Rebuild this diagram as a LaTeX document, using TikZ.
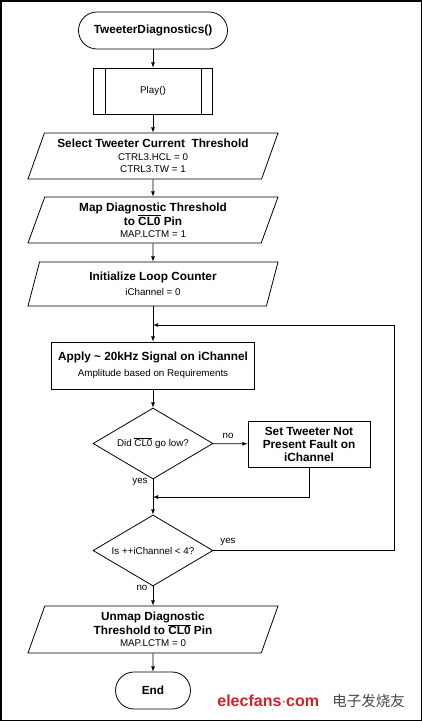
\documentclass[tikz,border=0pt]{standalone}
\usepackage{fontspec}
\setmainfont{Liberation Sans}
\newfontfamily\cnfont{Noto Sans CJK SC}
\usetikzlibrary{shapes.geometric}
\newcommand{\headfont}{\fontsize{11.8}{15}\selectfont\bfseries}
\newcommand{\notefont}{\fontsize{9.8}{13}\selectfont}
\newcommand{\clzero}{\ensuremath{\overline{\mbox{CL0}}}}
\definecolor{wmred}{RGB}{214,32,40}
\definecolor{wmgray}{RGB}{70,70,70}
\begin{document}
\begin{tikzpicture}[x=1pt, y=-1pt, line width=0.8pt,
  terminal/.style={draw, rectangle, rounded corners=18.5pt, minimum height=37pt, inner sep=0pt},
  process/.style={draw, rectangle, align=center, inner sep=0pt},
  iobox/.style={draw, trapezium, trapezium left angle=64, trapezium right angle=116,
    trapezium stretches body, minimum width=250pt, minimum height=46pt, inner sep=0pt, align=center},
  decision/.style={draw, diamond, aspect=1.69, minimum width=120pt, minimum height=71pt, inner sep=0pt},
  lbl/.style={font=\notefont, inner sep=1pt}]

\useasboundingbox (0,0) rectangle (422,721);
\draw[line width=1.5pt] (0.75,0.75) rectangle (421.25,720.25);

\node[terminal, minimum width=149pt] (start) at (153,30.5) {\headfont TweeterDiagnostics()};

\node[process, minimum width=119pt, minimum height=46pt] (play) at (153,91) {\notefont Play()};
\draw ([xshift=12pt]play.north west) -- ([xshift=12pt]play.south west);
\draw ([xshift=-12pt]play.north east) -- ([xshift=-12pt]play.south east);

\node[iobox] (selthr) at (153,156) {\headfont Select Tweeter Current~~Threshold\\[1pt]
  \notefont CTRL3.HCL = 0\\\notefont CTRL3.TW = 1};

\node[iobox] (mapthr) at (153,220) {\headfont Map Diagnostic Threshold\\\headfont to \clzero{} Pin\\
  \notefont MAP.LCTM = 1};

\node[iobox, minimum height=44pt] (initcnt) at (153,284) {\headfont Initialize Loop Counter\\[3pt]
  \notefont iChannel = 0};

\coordinate (looptop) at (153,325);
\coordinate (loopr) at (394,325);

\node[process, minimum width=203pt, minimum height=47pt] (apply) at (153,365.5)
  {\headfont Apply \textasciitilde{} 20kHz Signal on iChannel\\[4pt]\notefont Amplitude based on Requirements};

\node[decision] (didcl) at (153,443.5) {\notefont Did \clzero{} go low?};

\node[process, minimum width=122pt, minimum height=46pt, font=\fontsize{11.8}{13}\selectfont\bfseries] (setfault) at (309,444)
  {Set Tweeter Not\\Present Fault on\\iChannel};

\coordinate (joinbot) at (153,497);

\node[decision] (isch) at (153,550.5) {\notefont Is ++iChannel < 4?};

\node[iobox, minimum height=47pt] (unmap) at (153,629.5) {\headfont Unmap Diagnostic\\
  \headfont Threshold to \clzero{} Pin\\\notefont MAP.LCTM = 0};

\node[terminal, minimum width=75pt] (endn) at (153,690.5) {\headfont End};

\draw[-latex] (start) -- (play);
\draw[-latex] (play) -- (selthr);
\draw[-latex] (selthr) -- (mapthr);
\draw[-latex] (mapthr) -- (initcnt);
\draw (initcnt) -- (looptop);
\draw[-latex] (looptop) -- (apply);
\draw[-latex] (apply) -- (didcl);
\draw[-latex] (didcl) -- (setfault);
\draw (didcl) -- (joinbot);
\draw[-latex] (setfault) |- (joinbot);
\draw[-latex] (joinbot) -- (isch);
\draw[-latex] (isch) -| (loopr) -- (looptop);
\draw[-latex] (isch) -- (unmap);
\draw[-latex] (unmap) -- (endn);

\node[lbl] (noa) at (228,436) {no};
\node[lbl] (yesa) at (140,482) {yes};
\node[lbl] (yesb) at (228,542) {yes};
\node[lbl] (nob) at (142,588) {no};

\node[anchor=west, inner sep=0pt, text=wmred, font=\fontsize{16}{16}\selectfont\bfseries] (wmsite) at (217,701) {elecfans$\cdot$com};
\node[anchor=west, inner sep=0pt, text=wmgray, font=\fontsize{14.5}{15}\selectfont\cnfont] (wmname) at (332,701) {电子发烧友};

\end{tikzpicture}
\end{document}
